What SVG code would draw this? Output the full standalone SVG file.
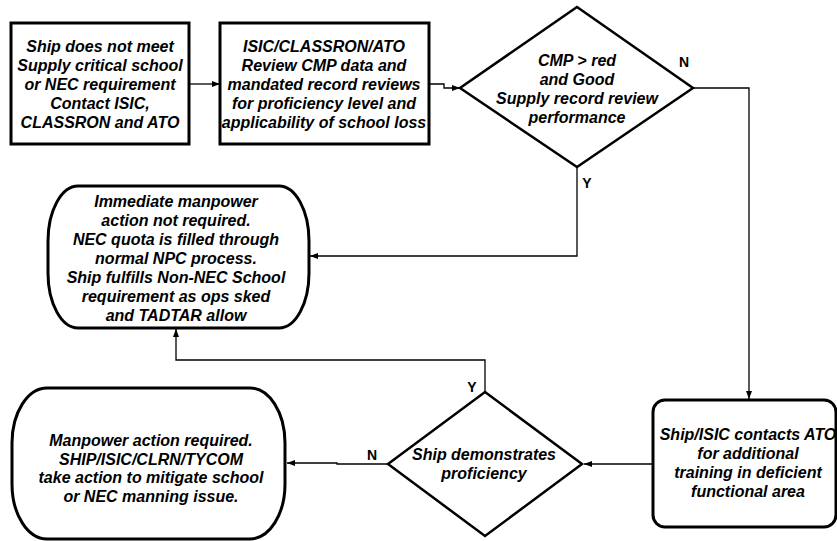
<svg xmlns="http://www.w3.org/2000/svg" width="837" height="541" viewBox="0 0 837 541">
<defs>
<marker id="ah" markerWidth="8" markerHeight="6" refX="8" refY="3" orient="auto" markerUnits="userSpaceOnUse">
<path d="M0,0 L8,3 L0,6 Z" fill="#000"/>
</marker>
<style>
.box{fill:#fff;stroke:#000;stroke-width:3}
.dia{fill:#fff;stroke:#000;stroke-width:2.5}
.t{font-family:"Liberation Sans",Arial,sans-serif;font-size:16px;font-weight:bold;font-style:italic;text-anchor:middle;fill:#000}
.lbl{font-family:"Liberation Sans",Arial,sans-serif;font-size:14px;font-weight:bold;text-anchor:middle;fill:#000}
.c{fill:none;stroke:#000;stroke-width:1.3;marker-end:url(#ah)}
</style>
</defs>
<rect width="837" height="541" fill="#fff"/>
<g id="connectors">
<path class="c" d="M189,84 H220"/>
<path class="c" d="M429,84 H444 V88 H460"/>
<path class="c" d="M693,88 H749 V399"/>
<path class="c" d="M577,167 V256 H310"/>
<path class="c" d="M653,464 H584"/>
<path class="c" d="M388,464 H337 V463 H287"/>
<path class="c" d="M485,392 V360 H176 V329"/>
</g>
<g id="n1">
<rect class="box" x="11" y="23" width="178" height="121"/>
<text class="t" x="100" y="52">Ship does not meet</text>
<text class="t" x="100" y="71">Supply critical school</text>
<text class="t" x="100" y="90">or NEC requirement</text>
<text class="t" x="100" y="109">Contact ISIC,</text>
<text class="t" x="100" y="128">CLASSRON and ATO</text>
</g>
<g id="n2">
<rect class="box" x="220" y="23" width="209" height="121"/>
<text class="t" x="324" y="52">ISIC/CLASSRON/ATO</text>
<text class="t" x="324" y="71">Review CMP data and</text>
<text class="t" x="324" y="90">mandated record reviews</text>
<text class="t" x="324" y="109">for proficiency level and</text>
<text class="t" x="324" y="128">applicability of school loss</text>
</g>
<g id="d1">
<polygon class="dia" points="577,7 693,88 577,167 460,88"/>
<text class="t" x="577" y="66">CMP &gt; red</text>
<text class="t" x="577" y="85">and Good</text>
<text class="t" x="577" y="104">Supply record review</text>
<text class="t" x="577" y="123">performance</text>
<text class="lbl" x="684" y="67">N</text>
<text class="lbl" x="587" y="188">Y</text>
</g>
<g id="n3">
<rect class="box" x="48" y="186" width="261" height="142" rx="30" ry="55"/>
<text class="t" x="176" y="207">Immediate manpower</text>
<text class="t" x="176" y="226">action not required.</text>
<text class="t" x="176" y="245">NEC quota is filled through</text>
<text class="t" x="176" y="264">normal NPC process.</text>
<text class="t" x="176" y="283">Ship fulfills Non-NEC School</text>
<text class="t" x="176" y="302">requirement as ops sked</text>
<text class="t" x="176" y="321">and TADTAR allow</text>
</g>
<g id="n4">
<rect class="box" x="653" y="400" width="183" height="127" rx="12" ry="12"/>
<text class="t" x="748" y="440">Ship/ISIC contacts ATO</text>
<text class="t" x="748" y="459">for additional</text>
<text class="t" x="748" y="478">training in deficient</text>
<text class="t" x="748" y="497">functional area</text>
</g>
<g id="d2">
<polygon class="dia" points="485,392 582,464 485,536 388,464"/>
<text class="t" x="484" y="460">Ship demonstrates</text>
<text class="t" x="484" y="479">proficiency</text>
<text class="lbl" x="472" y="392">Y</text>
<text class="lbl" x="372" y="460">N</text>
</g>
<g id="n5">
<rect class="box" x="12" y="388" width="273" height="151" rx="35" ry="55"/>
<text class="t" x="151" y="446">Manpower action required.</text>
<text class="t" x="151" y="465">SHIP/ISIC/CLRN/TYCOM</text>
<text class="t" x="151" y="483">take action to mitigate school</text>
<text class="t" x="151" y="502">or NEC manning issue.</text>
</g>
</svg>
